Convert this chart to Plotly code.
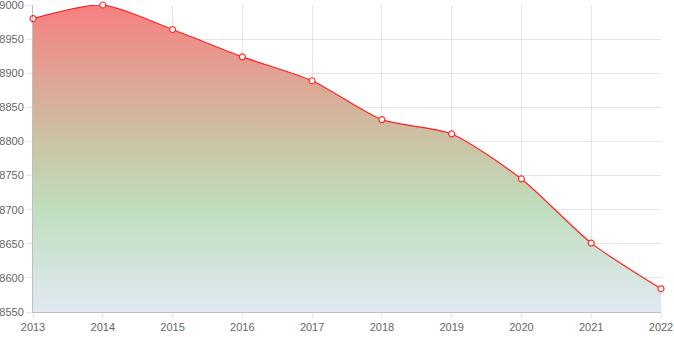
import plotly.graph_objects as go

years = [2013, 2014, 2015, 2016, 2017, 2018, 2019, 2020, 2021, 2022]
values = [8980, 9000, 8964, 8924, 8889, 8832, 8811, 8745, 8651, 8584]
y_ticks = [8550, 8600, 8650, 8700, 8750, 8800, 8850, 8900, 8950, 9000]

fig = go.Figure()
fig.add_trace(go.Scatter(
    x=years, y=values, mode="lines+markers",
    line=dict(color="#ff2020", width=1.2, shape="spline", smoothing=0.7),
    marker=dict(size=6, color="white", line=dict(color="#ff3030", width=1.2)),
    fill="tozeroy",
    fillgradient=dict(
        type="vertical", start=8550, stop=9000,
        colorscale=[[0, "rgb(225,232,243)"], [0.33, "rgb(192,222,190)"],
                    [0.55, "rgb(202,196,165)"], [1, "rgb(246,128,128)"]],
    ),
    cliponaxis=False,
    hoverinfo="x+y",
))

axis_common = dict(
    showgrid=True, gridcolor="rgba(0,0,0,0.1)", gridwidth=1,
    zeroline=False, showline=True, linecolor="rgba(0,0,0,0.25)",
    ticks="outside", tickcolor="rgba(0,0,0,0.1)",
    automargin=False, ticklabeloverflow="allow",
)

fig.update_layout(
    template="none",
    width=674, height=337,
    margin=dict(l=33, r=13, t=5, b=25),
    paper_bgcolor="white", plot_bgcolor="white",
    showlegend=False,
    font=dict(family="Liberation Sans, Arial, sans-serif", size=11, color="#666"),
    xaxis=dict(range=[2013, 2022], tickvals=years, ticktext=[str(y) for y in years],
               ticklen=5, **axis_common),
    yaxis=dict(range=[8550, 9000], tickvals=y_ticks, ticklen=6, **axis_common),
)

fig.write_html("out.html", config={"displayModeBar": False},
               post_script="document.body.style.margin='0';document.body.style.overflow='hidden';")
